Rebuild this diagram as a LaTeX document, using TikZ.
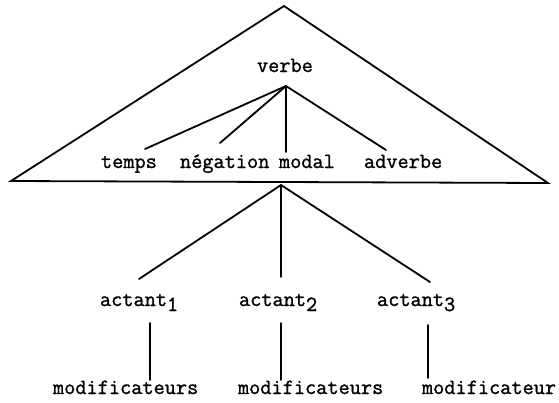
\documentclass[tikz,border=0pt]{standalone}
\usepackage{fontspec}
\setmonofont[FakeBold=1.2]{Latin Modern Mono}
\begin{document}
\begin{tikzpicture}[x=1pt,y=-1pt,
  lbl/.style={anchor=base west,inner sep=0pt,outer sep=0pt,font=\fontsize{21.7}{24}\selectfont\ttfamily},
  ln/.style={line width=1.8pt,line cap=round,line join=miter}]
\useasboundingbox (0,0) rectangle (559,402);
% triangle
\coordinate (apex) at (284,6);
\coordinate (lc) at (11,181);
\coordinate (rc) at (548,183);
\draw[ln] (apex) -- (rc) -- (lc) -- cycle;
% upper labels
\node[lbl] (verbe) at (257,72) {verbe};
\node[lbl] (temps) at (101,168) {temps};
\node[lbl] (negation) at (180,168) {négation};
\node[lbl] (modal) at (279,168) {modal};
\node[lbl] (adverbe) at (364,168) {adverbe};
\coordinate (jv) at (286,86);
\coordinate (et) at (145,149);
\coordinate (en) at (220,143);
\coordinate (em) at (286,152);
\coordinate (ea) at (386,150);
\draw[ln] (jv) -- (et);
\draw[ln] (jv) -- (en);
\draw[ln] (jv) -- (em);
\draw[ln] (jv) -- (ea);
% actants
\node[lbl] (act1) at (100,306) {actant\raisebox{-5pt}{1}};
\node[lbl] (act2) at (239,306) {actant\raisebox{-5pt}{2}};
\node[lbl] (act3) at (377,306) {actant\raisebox{-5pt}{3}};
\coordinate (jt) at (281,185);
\coordinate (e1) at (139,279);
\coordinate (e2) at (281,277);
\coordinate (e3) at (430,282);
\draw[ln] (jt) -- (e1);
\draw[ln] (jt) -- (e2);
\draw[ln] (jt) -- (e3);
% modificateurs
\node[lbl] (mod1) at (53,394) {modificateurs};
\node[lbl] (mod2) at (238,394) {modificateurs};
\node[lbl] (mod3) at (422,394) {modificateur};
\coordinate (v1t) at (150,323); \coordinate (v1b) at (150,380);
\coordinate (v2t) at (281,323); \coordinate (v2b) at (281,380);
\coordinate (v3t) at (428,325); \coordinate (v3b) at (428,378);
\draw[ln] (v1t) -- (v1b);
\draw[ln] (v2t) -- (v2b);
\draw[ln] (v3t) -- (v3b);
\end{tikzpicture}
\end{document}
